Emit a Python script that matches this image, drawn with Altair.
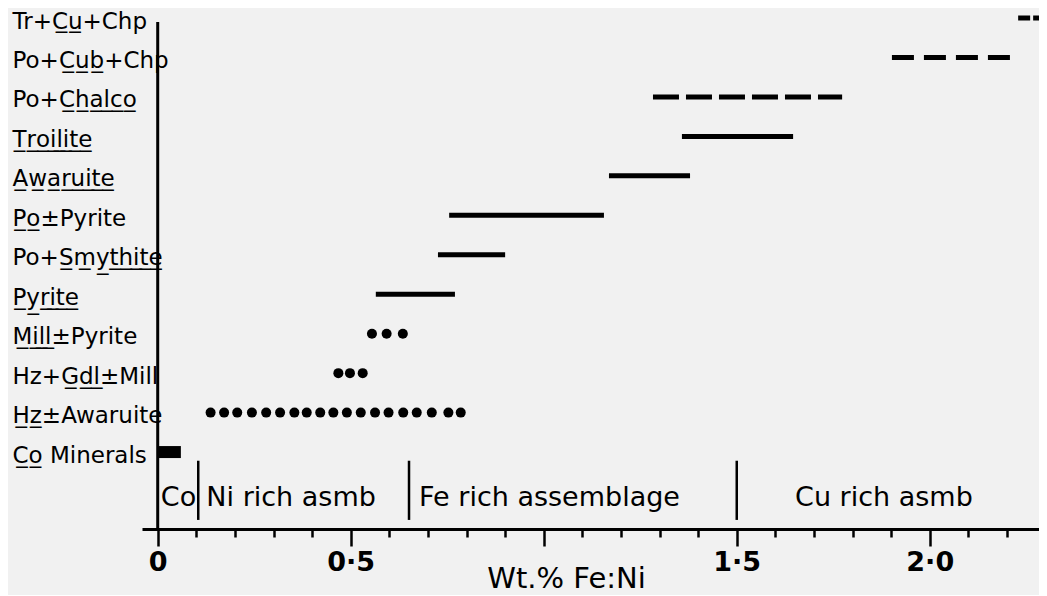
import json
import altair as alt
import pandas as pd

# ---------------- data ----------------
UL = "\u0332"  # combining low line -> underline inside real text


def ul(s):
    return "".join(c + UL for c in s)


row_names = ["Tr+Cu+Chp", "Po+Cub+Chp", "Po+Chalco", "Troilite", "Awaruite",
             "Po±Pyrite", "Po+Smythite", "Pyrite", "Mill±Pyrite", "Hz+Gdl±Mill",
             "Hz±Awaruite", "Co Minerals"]
row_labels = ["Tr+" + ul("Cu") + "+Chp", "Po+" + ul("Cub") + "+Chp", "Po+" + ul("Chalco"),
              ul("Troilite"), ul("Awaruite"), ul("Po") + "±Pyrite", "Po+" + ul("Smythite"),
              ul("Pyrite"), ul("Mill") + "±Pyrite", "Hz+" + ul("Gdl") + "±Mill",
              ul("Hz") + "±Awaruite", ul("Co") + " Minerals"]

solid_rows = ["Troilite", "Awaruite", "Po±Pyrite", "Po+Smythite", "Pyrite"]
solid_start = [1.358, 1.169, 0.755, 0.726, 0.565]
solid_end = [1.646, 1.379, 1.156, 0.900, 0.770]

dashed_rows = ["Tr+Cu+Chp", "Po+Cub+Chp", "Po+Chalco"]
dashed_start = [2.229, 1.902, 1.283]
dashed_end = [2.300, 2.216, 1.773]

mill_pyrite_dots = [0.555, 0.593, 0.635]
hz_gdl_mill_dots = [0.468, 0.498, 0.531]
hz_awaruite_dots = [0.137, 0.172, 0.206, 0.244, 0.281, 0.317, 0.354, 0.386, 0.421, 0.455,
                    0.490, 0.526, 0.563, 0.598, 0.636, 0.671, 0.710, 0.753, 0.785]

co_start = [0.0]
co_end = [0.06]

group_names = ["Co", "Ni rich asmb", "Fe rich assemblage", "Cu rich asmb"]
group_text_start = [0.008, 0.126, 0.677, 1.651]
group_bounds = [0.105, 0.651, 1.5]

x_ticks = [0.0, 0.1, 0.2, 0.3, 0.4, 0.5, 0.6, 0.7, 0.8, 0.9, 1.0, 1.1,
           1.2, 1.3, 1.4, 1.5, 1.6, 1.7, 1.8, 1.9, 2.0, 2.1, 2.2]
x_label_vals = [0.0, 0.5, 1.5, 2.0]
x_label_text = ["0", "0·5", "1·5", "2·0"]

# ---------------- tables ----------------
ridx = {n: i for i, n in enumerate(row_names)}
GROUP_ROW = len(row_names)
Y_MIN, Y_MAX = -0.2535, 12.95
X_MIN, X_MAX = -0.0407, 2.283

solid_df = pd.DataFrame({"row": solid_rows, "start": solid_start, "end": solid_end})
solid_df["r"] = solid_df["row"].map(ridx)
dash_df = pd.DataFrame({"row": dashed_rows, "start": dashed_start, "end": dashed_end})
dash_df["r"] = dash_df["row"].map(ridx)
dots = []
for name, vals in [("Mill±Pyrite", mill_pyrite_dots), ("Hz+Gdl±Mill", hz_gdl_mill_dots),
                   ("Hz±Awaruite", hz_awaruite_dots)]:
    for v in vals:
        dots.append({"row": name, "x": v, "r": ridx[name]})
dots_df = pd.DataFrame(dots)
co_df = pd.DataFrame({"start": co_start, "end": co_end, "r": [ridx["Co Minerals"]]})
grp_df = pd.DataFrame({"name": group_names, "x": group_text_start, "r": [GROUP_ROW] * 4})
div_df = pd.DataFrame({"x": group_bounds, "r0": [GROUP_ROW - 0.78] * 3, "r1": [GROUP_ROW + 0.72] * 3})
yline_df = pd.DataFrame({"x": [0.0], "r0": [0.1], "r1": [Y_MAX]})

# ---------------- scales / axes ----------------
FONT = "DejaVu Sans"
xscale = alt.Scale(domain=[X_MIN, X_MAX], nice=False, zero=False)
yscale = alt.Scale(domain=[Y_MIN, Y_MAX], reverse=True, nice=False, zero=False)

lab_expr = "".join(f"abs(datum.value - {v}) < 0.001 ? '{t}' : " for v, t in zip(x_label_vals, x_label_text)) + "''"
X_AXIS = alt.Axis(
    values=x_ticks, labelExpr=lab_expr, grid=False,
    tickSize=alt.condition("abs(datum.value*2 - round(datum.value*2)) < 0.01", alt.value(17), alt.value(8)),
    tickWidth=2.5, tickColor="black", domainColor="black", domainWidth=3,
    labelFont=FONT, labelFontSize=27, labelFontWeight="bold", labelColor="black",
    labelPadding=3, labelFlush=False, labelOverlap=False,
    title="Wt.% Fe:Ni", titleFont=FONT, titleFontSize=29, titleFontWeight="normal",
    titleColor="black", titleX=424, titleY=58, titleBaseline="alphabetic", titleAlign="center",
)
Y_AXIS = alt.Axis(
    values=list(range(len(row_names))),
    labelExpr=json.dumps(row_labels, ensure_ascii=False) + "[datum.value]",
    domain=False, ticks=False, tickSize=0, grid=False,
    labelAlign="left", labelBaseline="middle", labelPadding=130, labelOffset=3,
    labelFont=FONT, labelFontSize=23, labelColor="black", labelLimit=400, labelOverlap=False,
    title=None,
)


def X(field):
    return alt.X(field, type="quantitative", scale=xscale, axis=X_AXIS)


def Y(field):
    return alt.Y(field, type="quantitative", scale=yscale, axis=Y_AXIS)


yline = alt.Chart(yline_df).mark_rule(color="black", strokeWidth=3).encode(
    x=X("x"), y=Y("r0"), y2="r1")
dividers = alt.Chart(div_df).mark_rule(color="black", strokeWidth=2.5).encode(
    x=X("x"), y=Y("r0"), y2="r1")
co_bar = alt.Chart(co_df).mark_rule(color="black", strokeWidth=12, strokeCap="butt").encode(
    x=X("start"), x2="end", y=Y("r"))
solid = alt.Chart(solid_df).mark_rule(color="black", strokeWidth=5, strokeCap="butt").encode(
    x=X("start"), x2="end", y=Y("r"))
dashed = alt.Chart(dash_df).mark_rule(color="black", strokeWidth=5, strokeCap="butt").encode(
    x=X("start"), x2="end", y=Y("r"),
    strokeDash=alt.StrokeDash("row:N", scale=alt.Scale(domain=dashed_rows, range=[[12, 3], [22, 10], [26, 7]]), legend=None))
dotted = alt.Chart(dots_df).mark_circle(color="black", size=100, opacity=1).encode(
    x=X("x"), y=Y("r"))
groups = alt.Chart(grp_df).mark_text(align="left", baseline="alphabetic", dy=14, font=FONT,
                                     fontSize=27, color="black").encode(
    x=X("x"), y=Y("r"), text="name:N")

chart = alt.layer(yline, dividers, co_bar, solid, dashed, dotted, groups).properties(
    width=897, height=521,
    padding={"left": 134, "top": 0, "right": 0, "bottom": 66},
    autosize=alt.AutoSizeParams(type="none"),
    background="#f1f1f1",
).configure_view(stroke=None)

chart.save("out.html", embed_options={"renderer": "svg", "actions": False})
